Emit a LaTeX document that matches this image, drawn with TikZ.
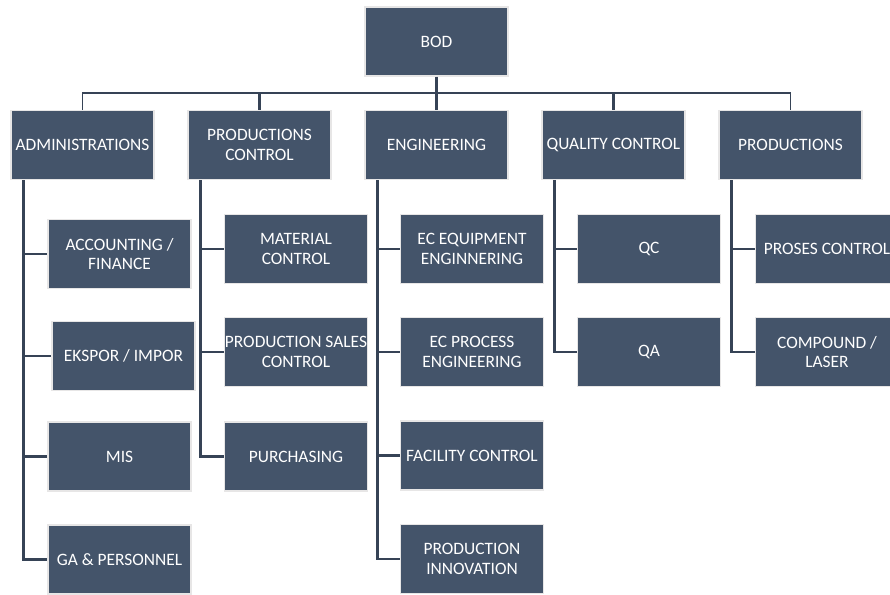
\documentclass[tikz,border=0pt]{standalone}
\usepackage{fontspec}
\setmainfont{Carlito}
\definecolor{boxfill}{HTML}{44546A}
\definecolor{boxrim}{HTML}{E7E6E6}
\definecolor{wire}{HTML}{364356}

\begin{document}
\begin{tikzpicture}
  [ x=0.02cm, y=-0.02cm,
    unit/.style={fill=boxfill, draw=boxrim, line width=1.1pt, text=white,
    minimum width=2.86cm, minimum height=1.38cm, inner sep=0pt,
    align=center, font=\fontsize{9.9}{11.2}\selectfont},
    link/.style={draw=wire, line width=1.6pt},
    thinlink/.style={draw=wire, line width=1.1pt}
  ]
  \useasboundingbox (0,0) rectangle (890,595);

  \node (bod) at (436.5, 41.5) [unit] {BOD};

  \node (adm) at ( 82.5,145) [unit] {ADMINISTRATIONS};
  \node (pc)  at (259.5,145) [unit] {PRODUCTIONS\\CONTROL};
  \node (eng) at (436.5,145) [unit] {ENGINEERING};
  \node (qc)  at (613.5,145) [unit] {QUALITY CONTROL};
  \node (prd) at (790.5,145) [unit] {PRODUCTIONS};

  \node (acc)  at (119.5,254)   [unit] {ACCOUNTING /\\FINANCE};
  \node (exim) at (123.5,356)   [unit] {EKSPOR / IMPOR};
  \node (mis)  at (119.5,456.5) [unit] {MIS};
  \node (ga)   at (119.5,559.5) [unit] {GA \& PERSONNEL};

  \node (mat)   at (296,249)   [unit] {MATERIAL\\CONTROL};
  \node (sales) at (296,352)   [unit] {PRODUCTION SALES\\CONTROL};
  \node (pur)   at (296,456.5) [unit] {PURCHASING};

  \node (ecq) at (472,249)   [unit] {EC EQUIPMENT\\ENGINNERING};
  \node (ecp) at (472,352)   [unit] {EC PROCESS\\ENGINEERING};
  \node (fac) at (472,455.5) [unit] {FACILITY CONTROL};
  \node (inn) at (472,559)   [unit] {PRODUCTION\\INNOVATION};

  \node (qcu) at (649,249) [unit] {QC};
  \node (qa)  at (649,352) [unit] {QA};

  \node (pcs) at (827,249) [unit] {PROSES CONTROL};
  \node (cmp) at (827,352) [unit] {COMPOUND /\\LASER};

  \draw [thinlink] (bod.south) -- ++(0,16) -| (adm.north);
  \draw [thinlink] (bod.south) -- ++(0,16) -| (prd.north);
  \draw [link] (bod.south) -- ++(0,16) -| (pc.north);
  \draw [link] (bod.south) -- ++(0,16) -| (qc.north);
  \draw [link] (bod.south) -- (eng.north);

  \foreach \top/\sub in {adm/acc, adm/exim, adm/mis, adm/ga,
                         pc/mat, pc/sales, pc/pur,
                         eng/ecq, eng/ecp, eng/fac, eng/inn,
                         qc/qcu, qc/qa, prd/pcs, prd/cmp}
    \draw [link] ([xshift=0.27cm]\top.south west) |- (\sub.west);
\end{tikzpicture}
\end{document}
